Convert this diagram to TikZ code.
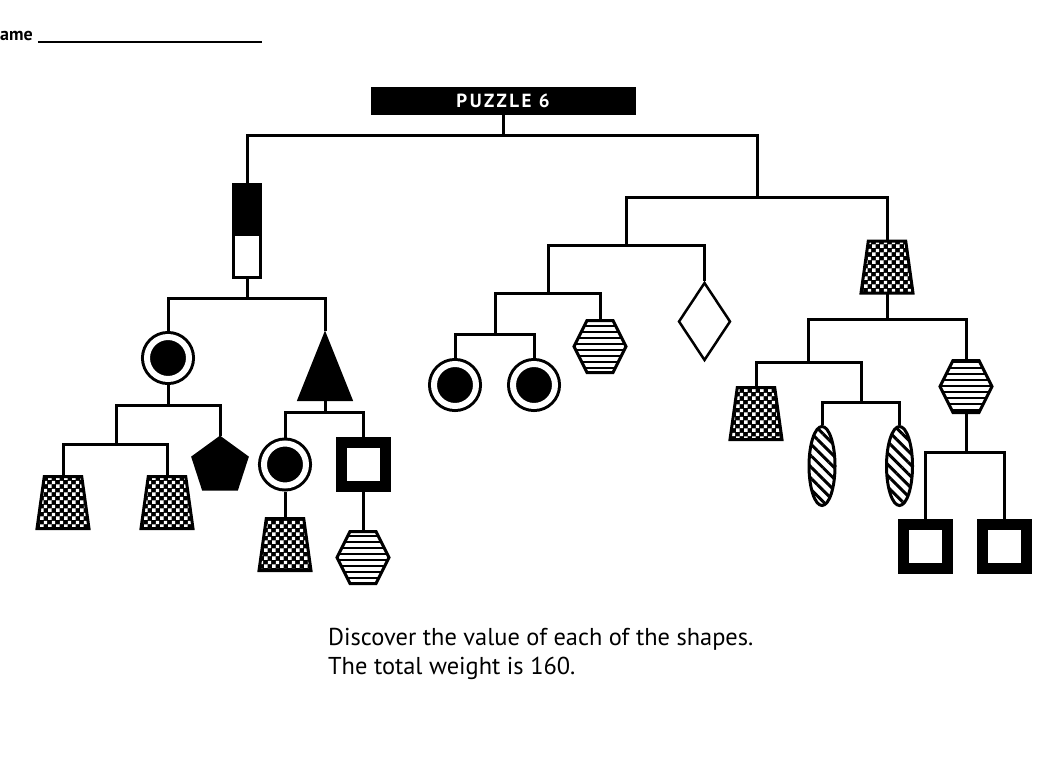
\documentclass[tikz,border=0pt]{standalone}
\usepackage{fontspec}
\setmainfont{PT Sans}
\usepackage{tikz}
\usetikzlibrary{calc}
\usetikzlibrary{positioning}
\usetikzlibrary{shapes.geometric}
\usetikzlibrary{patterns}
\usetikzlibrary{patterns.meta}

% white dots on black
\pgfdeclarepatternformonly{checks}{\pgfqpoint{0pt}{0pt}}{\pgfqpoint{8pt}{8pt}}{\pgfqpoint{8pt}{8pt}}{%
  \pgfpathrectangle{\pgfqpoint{0.2pt}{0.2pt}}{\pgfqpoint{3.7pt}{3.7pt}}%
  \pgfpathrectangle{\pgfqpoint{4.2pt}{4.2pt}}{\pgfqpoint{3.7pt}{3.7pt}}%
  \pgfusepath{fill}}

\begin{document}
\begin{tikzpicture}[x=1pt,y=-1pt]
    \tikzstyle{wire}=[draw=black,line width=3pt]
    \tikzstyle{shp}=[draw=black,line width=3pt,inner sep=0pt]
    \tikzstyle{ring}=[shp,circle,minimum size=42pt,fill=black,double=white,double distance=6pt,outer sep=6pt]
    \tikzstyle{box}=[inner sep=0pt,outer sep=0pt,minimum width=52pt,minimum height=52pt]
    \tikzstyle{frame}=[draw=black,line width=11pt,minimum size=44pt,inner sep=0pt,fill=white]
    \tikzstyle{oval}=[shp,ellipse,minimum width=26pt,minimum height=79pt,pattern={Lines[angle=-45,distance=8pt,line width=3pt]}]

    \useasboundingbox[fill=white] (0,0) rectangle (1048,776);

    \node[anchor=base west,inner sep=0pt,font=\bfseries\fontsize{18}{20}\selectfont] (namelbl) at (0,41) {ame};
    \coordinate (nameend) at (262,42);
    \draw[line width=1.6pt] ([xshift=5pt,yshift=-1pt]namelbl.base east) -- (nameend);

    \node[fill=black,minimum width=265pt,minimum height=28pt,inner sep=0pt,text=white,font=\bfseries\fontsize{19}{22}\selectfont] (title) at (503,101) {\addfontfeature{LetterSpace=13}PUZZLE 6};

    % left half
    \node[shp,minimum width=27pt,minimum height=47pt,fill=black] (battop) at (247,208) {};
    \node[shp,minimum width=27pt,minimum height=43pt,fill=white,below=0pt of battop] (batbot) {};
    \node[ring] (ringA) at (168,358) {};
    \node[shp,isosceles triangle,isosceles triangle stretches,shape border rotate=90,minimum width=52pt,minimum height=65pt,fill=black] (tri) at (325,382) {};
    \node[shp,regular polygon,regular polygon sides=5,minimum size=57pt,fill=black] (penta) at (220,466) {};
    \node[box] (cupA) at (63,502.5) {};
    \node[box] (cupB) at (167,502.5) {};
    \node[ring] (ringB) at (285,464.5) {};
    \node[frame] (sqA) at (363,464) {};
    \node[box] (cupC) at (285,544.5) {};
    \node[box] (hexA) at (363,557.5) {};

    % right half
    \node[ring] (ringC) at (455,385) {};
    \node[ring] (ringD) at (534,385) {};
    \node[box] (hexB) at (600,346.5) {};
    \node[shp,diamond,minimum width=52pt,minimum height=78pt,fill=white,line width=2.5pt] (kite) at (704.5,321.5) {};
    \node[box] (cupD) at (887,267) {};
    \node[box] (cupE) at (756,413.5) {};
    \node[oval] (ovalA) at (822,466) {};
    \node[oval] (ovalB) at (899.5,466) {};
    \node[box] (hexC) at (966,386.5) {};
    \node[frame] (sqB) at (925.5,546) {};
    \node[frame] (sqC) at (1004.5,546) {};

    \newcommand{\hexa}[1]{%
      \draw[shp,pattern={Lines[distance=6pt,line width=2.8pt]}] (#1.west)
        -- ($(#1.north west)!0.25!(#1.north east)$) -- ($(#1.north west)!0.75!(#1.north east)$)
        -- (#1.east)
        -- ($(#1.south west)!0.75!(#1.south east)$) -- ($(#1.south west)!0.25!(#1.south east)$)
        -- cycle ;}
    \newcommand{\checkcup}[1]{%
      \fill[black] ($(#1.north west)!0.14!(#1.north east)$) -- ($(#1.north west)!0.86!(#1.north east)$)
        -- (#1.south east) -- (#1.south west) -- cycle ;
      \draw[shp,pattern=checks,pattern color=white] ($(#1.north west)!0.14!(#1.north east)$)
        -- ($(#1.north west)!0.86!(#1.north east)$)
        -- (#1.south east) -- (#1.south west) -- cycle ;}
    \hexa{hexA}
    \hexa{hexB}
    \hexa{hexC}
    \checkcup{cupA}
    \checkcup{cupB}
    \checkcup{cupC}
    \checkcup{cupD}
    \checkcup{cupE}

    \coordinate (j0) at (503,135);
    \coordinate (j1) at (757,197);
    \coordinate (j2) at (247,298);
    \coordinate (j3) at (168,405);
    \coordinate (j4) at (116,444);
    \coordinate (j5) at (325,412);
    \coordinate (j6) at (626,245);
    \coordinate (j7) at (548,293);
    \coordinate (j8) at (495,334);
    \coordinate (j9) at (887,319);
    \coordinate (j10) at (808,362);
    \coordinate (j11) at (861,402);
    \coordinate (j12) at (966,452);

    \draw[wire] (title.south) -- (j0);
    \draw[wire] (battop.north) |- (j0) -| (j1);
    \draw[wire] (batbot.south) -- (j2);
    \draw[wire] (ringA.north) |- (j2) -| (tri.apex);
    \draw[wire] (ringA.south) -- (j3);
    \draw[wire] (j4) |- (j3) -| (penta.north);
    \draw[wire] (cupA.north) |- (j4) -| (cupB.north);
    \draw[wire] (tri.lower side) -- (j5);
    \draw[wire] (ringB.north) |- (j5) -| (sqA.north);
    \draw[wire] (ringB.south) -- (cupC.north);
    \draw[wire] (sqA.south) -- (hexA.north);

    \draw[wire] (j6) |- (j1) -| (cupD.north);
    \draw[wire] (j7) |- (j6) -| (kite.north);
    \draw[wire] (j8) |- (j7) -| (hexB.north);
    \draw[wire] (ringC.north) |- (j8) -| (ringD.north);
    \draw[wire] (cupD.south) -- (j9);
    \draw[wire] (j10) |- (j9) -| (hexC.north);
    \draw[wire] (cupE.north) |- (j10) -| (j11);
    \draw[wire] (ovalA.north) |- (j11) -| (ovalB.north);
    \draw[wire] (hexC.south) -- (j12);
    \draw[wire] (sqB.north) |- (j12) -| (sqC.north);

    \node[anchor=north west,inner sep=0pt,align=left,font=\fontsize{24.4}{29}\selectfont] (caption) at (328,628) {Discover the value of each of the shapes.\\The total weight is 160.};
\end{tikzpicture}
\end{document}
